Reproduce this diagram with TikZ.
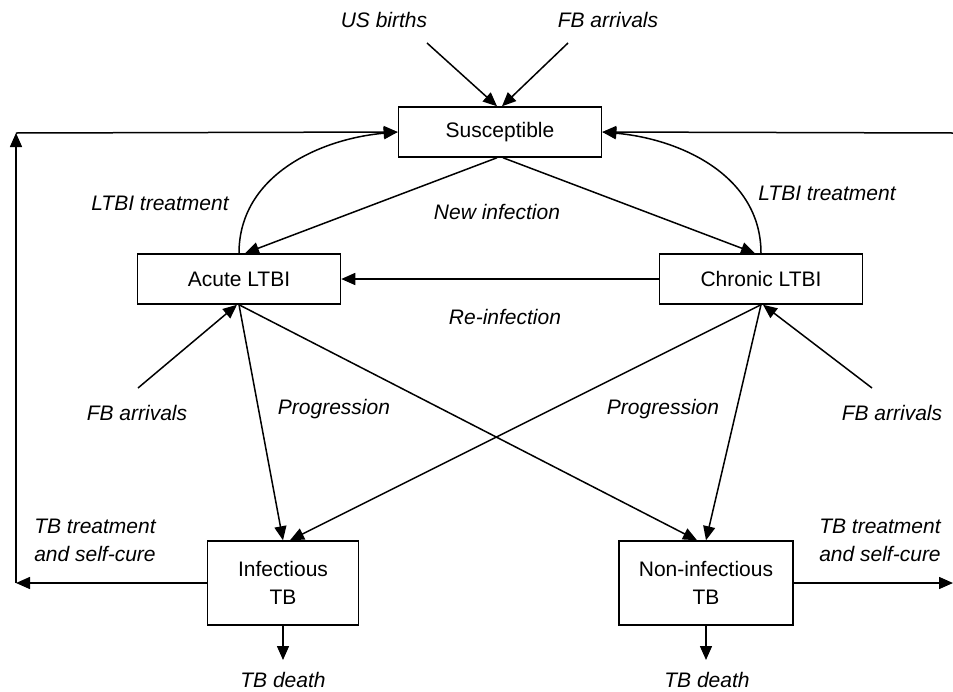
\documentclass[tikz,border=0pt]{standalone}
\usepackage{fontspec}
\setmainfont{Liberation Sans}
\usetikzlibrary{arrows.meta}
\tikzset{
Boite/.style={
 draw=black, 
 line width=1.5pt, 
 align=center, 
 inner sep=0pt
 },
Etiq/.style={
 font=\fontsize{21}{28}\selectfont\itshape, 
 align=center, 
 inner sep=0pt
 },
Fleche/.style={
 draw=black, 
 line width=1.5pt, 
 -{Triangle[length=14pt,width=12pt]}
 }
}

\begin{document}
\begin{tikzpicture}[x=1pt,y=-1pt,font=\fontsize{21}{28}\selectfont]
\useasboundingbox (0,0) rectangle (953,691);
% compartments
\node[Boite,minimum width=203pt,minimum height=50pt] (sus) at (500,132) {Susceptible};
\node[Boite,minimum width=203pt,minimum height=50pt] (acute) at (239,279) {Acute LTBI};
\node[Boite,minimum width=203pt,minimum height=50pt] (chron) at (761,279) {Chronic LTBI};
\node[Boite,minimum width=151pt,minimum height=84pt] (inf) at (283,583) {Infectious\\TB};
\node[Boite,minimum width=174pt,minimum height=84pt] (noninf) at (706,583) {Non-infectious\\TB};
% labels
\node[Etiq] (usb) at (384,20) {US births};
\node[Etiq] (fbs) at (608,20) {FB arrivals};
\node[Etiq] (ltbig) at (160,203) {LTBI treatment};
\node[Etiq] (ltbid) at (827,193) {LTBI treatment};
\node[Etiq] (newinf) at (497,212) {New infection};
\node[Etiq] (reinf) at (505,317) {Re-infection};
\node[Etiq] (fbg) at (137,413) {FB arrivals};
\node[Etiq] (fbd) at (892,413) {FB arrivals};
\node[Etiq] (progg) at (334,409) {Progression};
\node[Etiq] (progd) at (663,409) {Progression};
\node[Etiq] (trtg) at (95,540) {TB treatment\\and self-cure};
\node[Etiq] (trtd) at (880,540) {TB treatment\\and self-cure};
\node[Etiq] (deathg) at (283,680) {TB death};
\node[Etiq] (deathd) at (707,680) {TB death};
% free ends
\coordinate (usbt) at (427,43);
\coordinate (fbst) at (568,43);
\coordinate (fbgt) at (138,388);
\coordinate (fbdt) at (872,388);
\coordinate (hg) at (16,133);
\coordinate (bg) at (16,583);
\coordinate (hd) at (953,133);
\coordinate (bd) at (953,583);
\coordinate (mg) at (283,660);
\coordinate (md) at (706,660);
% flows
\draw[Fleche] (usbt) -- ([xshift=-3pt]sus.north);
\draw[Fleche] (fbst) -- ([xshift=2pt]sus.north);
\draw[Fleche] ([xshift=-3pt]sus.south) -- ([xshift=6pt]acute.north);
\draw[Fleche] ([xshift=3pt]sus.south) -- ([xshift=-6pt]chron.north);
\draw[Fleche] (acute.north) to[out=90,in=185] (sus.west);
\draw[Fleche] (chron.north) to[out=90,in=-5] (sus.east);
\draw[Fleche] (chron.west) -- (acute.east);
\draw[Fleche] (fbgt) -- ([xshift=-2pt]acute.south);
\draw[Fleche] (fbdt) -- ([xshift=2pt]chron.south);
\draw[Fleche] (acute.south) -- (inf.north);
\draw[Fleche] (acute.south) -- ([xshift=-9pt]noninf.north);
\draw[Fleche] (chron.south) -- ([xshift=7pt]inf.north);
\draw[Fleche] (chron.south) -- (noninf.north);
\draw[Fleche] (inf.south) -- (mg);
\draw[Fleche] (noninf.south) -- (md);
\draw[Fleche] (inf.west) -- (bg);
\draw[Fleche] (bg) -- (hg);
\draw[Fleche] (hg) -- (sus.west);
\draw[Fleche] (noninf.east) -- (bd);
\draw[Fleche] (hd) -- (sus.east);
\end{tikzpicture}
\end{document}
